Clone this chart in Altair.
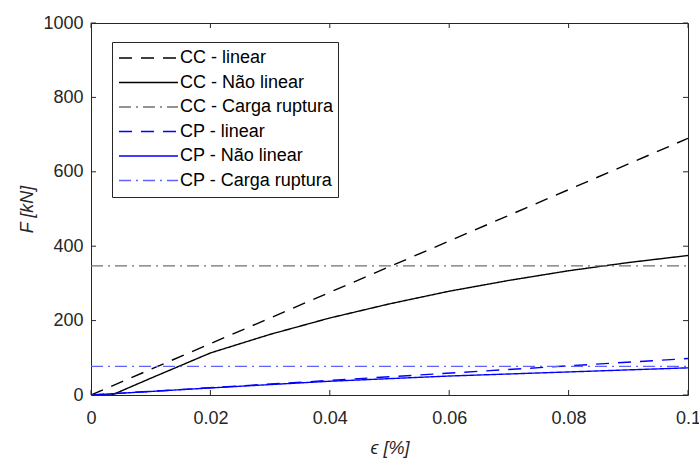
import altair as alt
import pandas as pd

# ---- data ----
series_names = ["CC - linear", "CC - Não linear", "CC - Carga ruptura",
                "CP - linear", "CP - Não linear", "CP - Carga ruptura"]

cc_lin_eps = [0.0, 0.1]
cc_lin_F = [0, 690]

cc_nl_eps = [0.0, 0.0035, 0.01, 0.02, 0.03, 0.04, 0.05, 0.06, 0.07, 0.08, 0.09, 0.1]
cc_nl_F = [0, 0, 45, 113, 163, 207, 245, 279, 308, 334, 356, 375]

cc_rup_eps = [0.0, 0.1]
cc_rup_F = [347, 347]

cp_lin_eps = [0.0, 0.1]
cp_lin_F = [0, 98]

cp_nl_eps = [0.0, 0.02, 0.04, 0.05, 0.06, 0.08, 0.1]
cp_nl_F = [0, 19, 37, 44, 51, 62, 73]

cp_rup_eps = [0.0, 0.1]
cp_rup_F = [77, 77]

x_ticks = [0, 0.02, 0.04, 0.06, 0.08, 0.1]
y_ticks = [0, 200, 400, 600, 800, 1000]

colors = ["#000000", "#000000", "#707070", "#0000ff", "#0000ff", "#6262ff"]
dashes = [[13, 9], [1, 0], [12, 5, 2, 5], [13, 9], [1, 0], [12, 5, 2, 5]]

rows = []
for name, xs, ys in zip(series_names,
                        [cc_lin_eps, cc_nl_eps, cc_rup_eps, cp_lin_eps, cp_nl_eps, cp_rup_eps],
                        [cc_lin_F, cc_nl_F, cc_rup_F, cp_lin_F, cp_nl_F, cp_rup_F]):
    for i, (a, b) in enumerate(zip(xs, ys)):
        rows.append({"eps": a, "F": b, "series": name, "i": i})
df = pd.DataFrame(rows)

W, H, TL = 597, 372, 5
FONT = "Liberation Sans"
AX = "#262626"
FS = 18

xscale = alt.Scale(domain=[0, 0.1], nice=False, zero=False)
yscale = alt.Scale(domain=[0, 1000], nice=False, zero=False)

xaxis = alt.Axis(values=x_ticks, format="~g", title="ϵ [%]", grid=False, domain=False,
                 ticks=False, labelPadding=14, labelFontSize=FS, labelFont=FONT,
                 labelColor=AX, titleFontSize=FS, titleFont=FONT, titleFontStyle="italic",
                 titleFontWeight="normal", titleColor=AX, titlePadding=12, labelFlush=False)
yaxis = alt.Axis(values=y_ticks, format="d", title="F [kN]", grid=False, domain=False,
                 ticks=False, labelPadding=8, labelFontSize=FS, labelFont=FONT,
                 labelColor=AX, titleFontSize=FS, titleFont=FONT, titleFontStyle="italic",
                 titleFontWeight="normal", titleColor=AX, titlePadding=6)

legend = alt.Legend(orient="none", legendX=21, legendY=19, title=None,
                    symbolType="stroke", symbolSize=3481, clipHeight=24,
                    symbolStrokeWidth=1.3, labelFontSize=FS, labelFont=FONT,
                    labelColor="#000000", strokeColor=AX, fillColor="white",
                    padding=4, symbolOffset=2, rowPadding=0.5, labelOffset=1,
                    labelLimit=400)

lines = alt.Chart(df).mark_line(clip=True, strokeWidth=1.4).encode(
    x=alt.X("eps:Q", scale=xscale, axis=xaxis),
    y=alt.Y("F:Q", scale=yscale, axis=yaxis),
    color=alt.Color("series:N", scale=alt.Scale(domain=series_names, range=colors), legend=legend),
    strokeDash=alt.StrokeDash("series:N", scale=alt.Scale(domain=series_names, range=dashes), legend=legend),
    order="i:Q",
)

xt = pd.DataFrame({"eps": x_ticks})
yt = pd.DataFrame({"F": y_ticks})

xtick_bottom = alt.Chart(xt).mark_rule(color=AX, strokeWidth=1).encode(
    x=alt.X("eps:Q", scale=xscale, axis=xaxis), y=alt.value(H), y2=alt.value(H - TL))
xtick_top = alt.Chart(xt).mark_rule(color=AX, strokeWidth=1).encode(
    x=alt.X("eps:Q", scale=xscale, axis=xaxis), y=alt.value(0), y2=alt.value(TL))
ytick_left = alt.Chart(yt).mark_rule(color=AX, strokeWidth=1).encode(
    y=alt.Y("F:Q", scale=yscale, axis=yaxis), x=alt.value(0), x2=alt.value(TL))
ytick_right = alt.Chart(yt).mark_rule(color=AX, strokeWidth=1).encode(
    y=alt.Y("F:Q", scale=yscale, axis=yaxis), x=alt.value(W), x2=alt.value(W - TL))

chart = alt.layer(lines, xtick_bottom, xtick_top, ytick_left, ytick_right).properties(
    width=W, height=H,
    autosize=alt.AutoSizeParams(type="none"),
    padding={"left": 91, "top": 23, "right": 11, "bottom": 64},
    background="white",
).configure_view(stroke=AX, strokeWidth=1)

chart.save("out.html", embed_options={"renderer": "svg", "actions": False})
